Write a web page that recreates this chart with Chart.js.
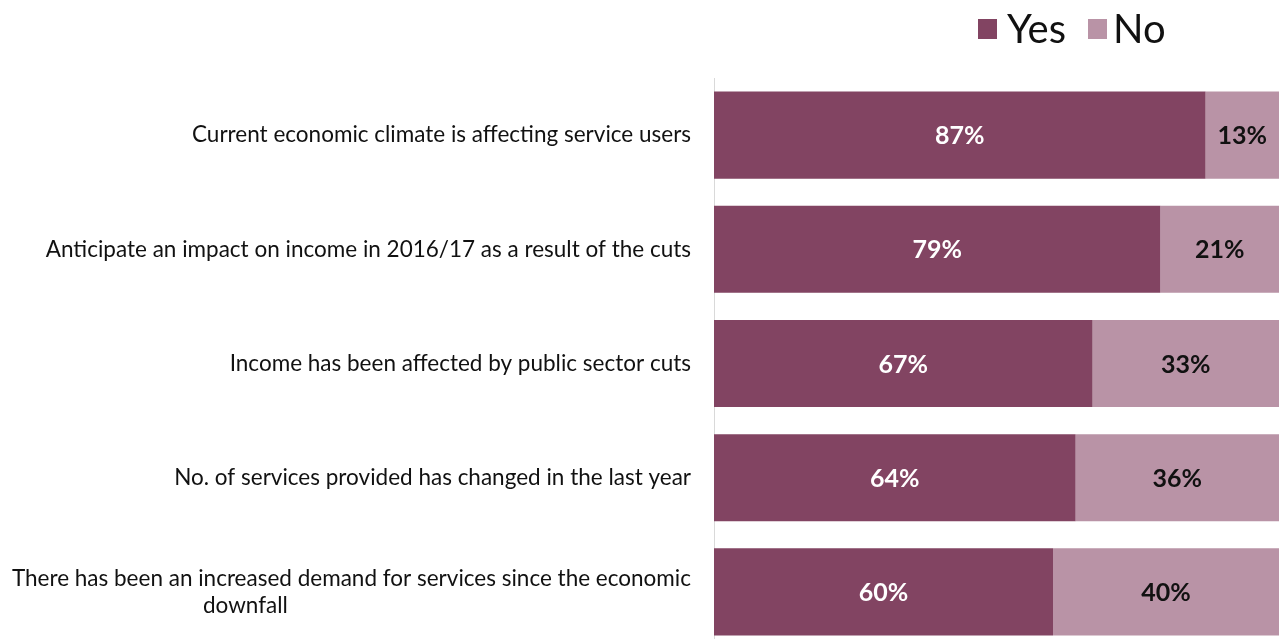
<!DOCTYPE html>
<html>
<head>
<meta charset="utf-8">
<script src="https://cdn.jsdelivr.net/npm/chart.js@4"></script>
<style>
  html, body { margin: 0; padding: 0; background: #fff; overflow: hidden; }
  #wrap { width: 1279px; height: 650px; }
</style>
</head>
<body>
<div id="wrap"><canvas id="surveyChart"></canvas></div>
<script>
const categories = [
    'Current economic climate is affecting service users',
    'Anticipate an impact on income in 2016/17 as a result of the cuts',
    'Income has been affected by public sector cuts',
    'No. of services provided has changed in the last year',
    ['There has been an increased demand for services since the economic', 'downfall']
];
const yesValues = [87, 79, 67, 64, 60];
const noValues = [13, 21, 33, 36, 40];
const seriesNames = ['Yes', 'No'];

const yesColor = '#824462';
const noColor = '#b993a6';
const labelFont = 'Lato, "Open Sans", sans-serif';

// Percent labels inside each bar segment
const barLabels = {
    id: 'barLabels',
    afterDatasetsDraw(chart) {
        const ctx = chart.ctx;
        ctx.save();
        ctx.font = 'bold 25px ' + labelFont;
        ctx.textAlign = 'center';
        ctx.textBaseline = 'middle';
        chart.data.datasets.forEach((ds, i) => {
            const meta = chart.getDatasetMeta(i);
            meta.data.forEach((bar, j) => {
                ctx.fillStyle = i === 0 ? '#ffffff' : '#111111';
                ctx.fillText(ds.data[j] + '%', (bar.base + bar.x) / 2, bar.y + 1);
            });
        });
        ctx.restore();
    }
};

// Legend drawn at top right, like the original
const topLegend = {
    id: 'topLegend',
    afterDraw(chart) {
        const ctx = chart.ctx;
        const boxX = [978, 1088];
        const textX = [1007, 1113];
        ctx.save();
        ctx.font = '40px ' + labelFont;
        ctx.textBaseline = 'middle';
        chart.data.datasets.forEach((ds, i) => {
            ctx.fillStyle = ds.backgroundColor;
            ctx.fillRect(boxX[i], 19, 19, 20);
            ctx.fillStyle = '#111111';
            ctx.fillText(ds.label, textX[i], 30);
        });
        ctx.restore();
    }
};

const ctx = document.getElementById('surveyChart').getContext('2d');
new Chart(ctx, {
    type: 'bar',
    data: {
        labels: categories,
        datasets: [
            { label: seriesNames[0], data: yesValues, backgroundColor: yesColor },
            { label: seriesNames[1], data: noValues, backgroundColor: noColor }
        ]
    },
    options: {
        indexAxis: 'y',
        responsive: true,
        maintainAspectRatio: false,
        animation: false,
        barPercentage: 0.763,
        categoryPercentage: 1,
        layout: { padding: { top: 78, right: 0, bottom: 1, left: 0 } },
        plugins: {
            legend: { display: false },
            tooltip: { enabled: false }
        },
        scales: {
            x: {
                stacked: true,
                min: 0,
                max: 100,
                display: false
            },
            y: {
                stacked: true,
                grid: { display: false, drawTicks: false },
                border: { display: true, color: '#d9d9d9', width: 1 },
                ticks: {
                    padding: 23,
                    color: '#111111',
                    font: { family: labelFont, size: 22.5 },
                    // second line of the long label sits further left in the original
                    callback(value) {
                        const lbl = this.getLabelForValue(value);
                        if (Array.isArray(lbl)) {
                            return [lbl[0], lbl[1] + ' '.repeat(70)];
                        }
                        return lbl;
                    }
                },
                afterFit(axis) {
                    axis.width = 714;
                    axis.paddingTop = 0;
                    axis.paddingBottom = 0;
                }
            }
        }
    },
    plugins: [barLabels, topLegend]
});
</script>
</body>
</html>
